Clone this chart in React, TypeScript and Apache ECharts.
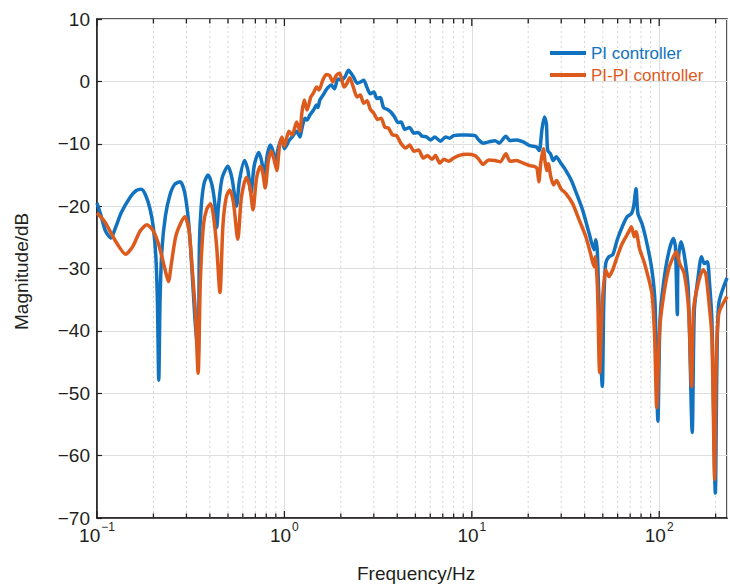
import React, { useEffect, useRef } from "react";
import * as echarts from "echarts";

// PI controller: frequency (Hz) and magnitude (dB)
const piFreq = [
  0.1, 0.105, 0.111, 0.1186, 0.125, 0.135, 0.15, 0.162, 0.1724, 0.182, 0.192, 0.2, 0.206, 0.21, 0.2136, 0.217, 0.222,
  0.232, 0.245, 0.26, 0.278, 0.292, 0.303, 0.312, 0.321, 0.333, 0.3465, 0.352, 0.36, 0.373, 0.3915, 0.41, 0.425,
  0.435, 0.445, 0.465, 0.4994, 0.525, 0.555, 0.575, 0.612, 0.638, 0.663, 0.69, 0.729, 0.755, 0.781, 0.81, 0.84,
  0.865, 0.893, 0.93, 0.968, 1.0, 1.03, 1.058, 1.1, 1.162, 1.21, 1.235, 1.287, 1.32, 1.368, 1.43, 1.485, 1.51, 1.545,
  1.608, 1.675, 1.72, 1.78, 1.85, 1.931, 2.02, 2.111, 2.197, 2.27, 2.346, 2.45, 2.545, 2.65, 2.76, 2.874, 3.0, 3.118,
  3.25, 3.382, 3.55, 3.698, 3.87, 4.044, 4.2, 4.385, 4.65, 4.913, 5.18, 5.438, 5.72, 6.02, 6.35, 6.8, 7.25, 7.6, 8.0,
  8.7, 9.41, 10.41, 10.9, 11.5, 12.3, 13.3, 14.0, 15.2, 16.0, 17.3, 18.8, 20.4, 22.1, 22.9, 23.7, 24.4, 25.0, 25.4,
  26.3, 27.2, 28.2, 30.0, 31.8, 34.0, 36.0, 39.0, 42.3, 44.9, 45.9, 46.8, 48.0, 49.7, 50.6, 51.8, 53.9, 56.5, 59.7,
  63.5, 67.4, 71.1, 73.0, 75.2, 77.0, 80.9, 86.0, 91.4, 95.0, 98.4, 101.0, 105.4, 112.0, 119.0, 122.0, 125.0, 126.0,
  130.7, 136.5, 142.9, 150.0, 154.0, 161.4, 168.1, 174.0, 180.8, 185.0, 191.0, 199.3, 203.0, 208.0, 230.0,
];
const piMag = [
  -19.5, -21.5, -24.0, -25.1, -23.6, -21.0, -18.6, -17.5, -17.3, -18.3, -20.5, -23.5, -28, -35, -47.9, -35, -27,
  -21.5, -18.2, -16.5, -16.1, -17.5, -20.5, -24.5, -30.1, -38, -44, -26, -20, -16.3, -15.0, -16.5, -19.5,
  -23.5, -20, -15.5, -13.6, -15.5, -20.0, -16, -12.7, -14.2, -17.9, -13.5, -11.4, -12.7, -15.2, -11.8, -10.2,
  -11, -12.8, -10.5, -9.1, -10.8, -10.2, -9.5, -8.9, -8.0, -8.9, -7.8, -5.9, -6.2, -5.4, -4.6, -3.8, -4.2, -3.0,
  -2.2, -1.3, -0.9, -0.6, -1.2, 0.4, 0.2, 0.8, 1.8, 1.3, 0.6, -0.3, -0.1, 0.2, -1.0, -2.0, -1.7, -2.75,
  -2.6, -4.2, -4.5, -4.9, -5.7, -6.6, -6.5, -7.7, -7.4, -8.3, -8.2, -8.8, -8.9, -9.4, -8.9, -9.6, -8.9, -9.1, -8.7,
  -8.6, -8.6, -8.7, -9.4, -9.9, -9.7, -9.5, -9.9, -8.8, -9.5, -9.4, -9.7, -10.3, -10.5, -11.1, -7.6, -5.7, -6.8, -11.1,
  -11.6, -12.7, -12.1, -13.2, -14.3, -15.9, -17.8, -20.6, -24.4, -27.0, -25.4, -27.6, -38.2, -48.9, -35.6, -29.2, -28.1, -27.8, -25.4,
  -23.3, -21.7, -21.2, -20.1, -17.2, -21.2, -22.8, -26.0, -30.2, -35.6, -54.5, -38.2, -32.4, -27.6, -25.2, -26.5, -37.4, -29.2,
  -25.7, -28.1, -33.4, -56.3, -36.6, -31.3, -28.1, -29.2, -28.9, -31.8, -38.2, -66.0, -46.2, -35.6, -31.5,
];

// PI-PI controller: frequency (Hz) and magnitude (dB)
const pipiFreq = [
  0.1, 0.11, 0.125, 0.1423, 0.155, 0.17, 0.1845, 0.2, 0.215, 0.23, 0.2404, 0.25, 0.265, 0.2946, 0.31, 0.322, 0.335,
  0.3465, 0.356, 0.37, 0.385, 0.4044, 0.42, 0.435, 0.4531, 0.47, 0.49, 0.5117, 0.535, 0.564, 0.59, 0.627, 0.655, 0.68,
  0.71, 0.744, 0.765, 0.79, 0.82, 0.85, 0.875, 0.911, 0.94, 0.97, 1.0, 1.03, 1.058, 1.1, 1.162, 1.21, 1.24, 1.276,
  1.32, 1.384, 1.43, 1.485, 1.53, 1.6, 1.675, 1.74, 1.816, 1.89, 1.97, 2.02, 2.08, 2.15, 2.23, 2.33, 2.443, 2.54,
  2.65, 2.76, 2.874, 3.0, 3.144, 3.28, 3.436, 3.6, 3.774, 3.97, 4.177, 4.44, 4.66, 4.913, 5.2, 5.505, 5.8, 6.14, 6.4,
  6.75, 7.1, 7.52, 8.0, 8.5, 9.41, 10.4, 10.9, 11.5, 12.3, 13.3, 14.2, 15.2, 16.0, 17.3, 18.8, 20.4, 21.8, 22.3, 22.8,
  23.3, 24.1, 24.6, 25.1, 25.6, 26.4, 27.3, 28.3, 29.9, 31.8, 34.5, 37.4, 40.6, 43.0, 44.9, 45.6, 46.8, 48.1, 49.7,
  51.8, 53.9, 56.5, 59.7, 63.5, 68.8, 71.1, 73.5, 75.2, 78.5, 83.5, 91.4, 94.5, 97.0, 100.5, 105.4, 112.0, 119.0,
  123.5, 128.5, 136.0, 143.5, 148.8, 152.5, 161.4, 171.5, 177.0, 183.0, 191.0, 197.6, 201.0, 208.0, 230.0,
];
const pipiMag = [
  -21.1, -22.5, -25.5, -27.7, -26.5, -24.0, -23.0, -24.0, -26.5, -30.0, -32.1, -29.0, -24.5, -21.7, -24, -30, -37,
  -46.8, -32, -23, -20.5, -19.6, -22, -26.5, -33.85, -23, -18.5, -17.4, -19.5, -25.3, -18.5, -15.4, -17, -20.6,
  -15.5, -13.6, -14.5, -17.1, -12.8, -11.2, -12.2, -14.3, -10.5, -8.9, -10.4, -9.0, -8.0, -8.6, -6.5, -8.0, -5.0, -3.0,
  -4.6, -2.5, -1.85, -0.9, -1.4, 0.15, 1.1, 0.95, -0.1, 0.95, 1.3, 0.4, -0.9, -0.4, 0.6, -0.9, -2.5, -2.2,
  -3.5, -3.1, -4.5, -5.1, -6.1, -5.9, -7.35, -7.5, -8.6, -8.7, -9.9, -10.7, -10.2, -11.2, -11.0, -12.3, -11.9, -12.5, -11.9,
  -13.1, -12.5, -12.8, -12.3, -11.9, -11.7, -11.9, -12.5, -13.3, -12.6, -12.7, -12.9, -11.6, -12.8, -12.7, -13.1, -13.5, -13.7, -14.0, -16.1,
  -13.2, -10.8, -12.9, -14.3, -13.2, -15.3, -16.6, -15.9, -17.2, -18.0, -19.6, -22.2, -24.9, -27.6, -29.7, -28.1, -32.9, -46.7, -35.6,
  -30.2, -31.3, -30.2, -28.1, -26.0, -24.1, -23.3, -24.9, -24.1, -26.8, -29.2, -34.0, -40.9, -52.3, -39.8, -34.5, -30.2, -28.1,
  -27.3, -29.2, -30.8, -36.6, -48.9, -36.6, -32.4, -30.2, -30.8, -34.5, -40.9, -63.8, -46.2, -37.2, -34.5,
];

const seriesNames = ["PI controller", "PI-PI controller"];
const seriesColors = ["#1173bf", "#dd5a1d"];
const majorTicks = [0.1, 1, 10, 100];
const minorTicks = [
  0.2, 0.3, 0.4, 0.5, 0.6, 0.7, 0.8, 0.9, 2, 3, 4, 5, 6, 7, 8, 9, 20, 30, 40, 50, 60, 70, 80, 90, 200,
];
const yMin = -70;
const yMax = 10;

const FONT = "'Liberation Sans', Arial, Helvetica, sans-serif";
const INK = "#231f20";

export default function App() {
  const ref = useRef<HTMLDivElement>(null);

  useEffect(() => {
    document.body.style.margin = "0";
    if (!ref.current) return;
    const chart = echarts.init(ref.current, undefined, { renderer: "svg" });

    const zip = (fx: number[], my: number[]) => fx.map((f, i) => [f, my[i]]);
    const tickData = [
      ...majorTicks.map((v) => [v, yMin, 1]),
      ...minorTicks.map((v) => [v, yMin, 0]),
    ];

    chart.setOption({
      animation: false,
      backgroundColor: "#ffffff",
      textStyle: { fontFamily: FONT },
      grid: {
        left: 97,
        top: 19,
        right: -2,
        bottom: 69,
        show: true,
        borderColor: INK,
        borderWidth: 1.5,
        backgroundColor: "transparent",
      },
      legend: {
        orient: "vertical",
        left: 545,
        top: 38,
        itemWidth: 36,
        itemHeight: 4,
        itemGap: 2,
        icon: "rect",
        textStyle: { fontSize: 17, lineHeight: 20, fontFamily: FONT },
        data: seriesNames.map((n, i) => ({ name: n, textStyle: { color: seriesColors[i] } })),
      },
      xAxis: {
        type: "log",
        logBase: 10,
        min: 0.1,
        max: 230,
        axisLine: { show: true, onZero: false, lineStyle: { color: INK, width: 1.5 } },
        axisTick: { show: false },
        splitLine: { show: true, lineStyle: { color: "#dedede", width: 1 } },
        axisLabel: {
          margin: 3,
          color: INK,
          fontFamily: FONT,
          formatter: (v: number) => {
            const e = Math.round(Math.log10(v));
            if (Math.abs(Math.log10(v) - e) > 1e-6) return "";
            return "{b|10}{s|" + (e < 0 ? "−" + Math.abs(e) : String(e)) + "}";
          },
          rich: {
            b: { fontSize: 19, color: INK, fontFamily: FONT, verticalAlign: "bottom", lineHeight: 24 },
            s: { fontSize: 12, color: INK, fontFamily: FONT, verticalAlign: "top", lineHeight: 24, padding: [0, 0, 0, 1] },
          },
        },
      },
      yAxis: {
        type: "value",
        min: yMin,
        max: yMax,
        interval: 10,
        axisLine: { show: true, onZero: false, lineStyle: { color: INK, width: 1.5 } },
        axisTick: { show: true, inside: true, length: 5, lineStyle: { color: INK, width: 1.2 } },
        splitLine: { show: true, lineStyle: { color: "#dedede", width: 1 } },
        axisLabel: {
          margin: 7,
          color: INK,
          fontSize: 19,
          fontFamily: FONT,
          formatter: (v: number) => (v < 0 ? "−" + Math.abs(v) : String(v)),
        },
      },
      graphic: [
        {
          type: "text",
          left: 357,
          top: 564,
          style: { text: "Frequency/Hz", fontSize: 19, fill: INK, fontFamily: FONT },
        },
        {
          type: "text",
          x: 12,
          y: 330,
          rotation: Math.PI / 2,
          style: { text: "Magnitude/dB", fontSize: 19, fill: INK, fontFamily: FONT, textAlign: "left", textVerticalAlign: "top" },
        },
      ],
      series: [
        {
          type: "custom",
          name: "ticks",
          silent: true,
          z: 1,
          clip: false,
          data: tickData,
          encode: { x: 0, y: 1 },
          renderItem: (_params: any, api: any) => {
            const v = api.value(0);
            const major = api.value(2) === 1;
            const pb = api.coord([v, yMin]);
            const pt = api.coord([v, yMax]);
            const len = major ? 7 : 4.5;
            const children: any[] = [];
            if (!major) {
              children.push({
                type: "line",
                shape: { x1: pb[0], y1: pb[1], x2: pt[0], y2: pt[1] },
                style: { stroke: "#d4d4d4", lineWidth: 1, lineDash: [2, 3] },
              });
            }
            children.push({
              type: "line",
              shape: { x1: pb[0], y1: pb[1], x2: pb[0], y2: pb[1] - len },
              style: { stroke: INK, lineWidth: 1.3 },
            });
            children.push({
              type: "line",
              shape: { x1: pt[0], y1: pt[1], x2: pt[0], y2: pt[1] + len },
              style: { stroke: INK, lineWidth: 1.3 },
            });
            return { type: "group", children };
          },
        },
        {
          type: "line",
          name: seriesNames[0],
          data: zip(piFreq, piMag),
          showSymbol: false,
          symbol: "none",
          smooth: 0.25,
          z: 3,
          color: seriesColors[0],
          lineStyle: { width: 3.5, color: seriesColors[0], join: "round" },
        },
        {
          type: "line",
          name: seriesNames[1],
          data: zip(pipiFreq, pipiMag),
          showSymbol: false,
          symbol: "none",
          smooth: 0.25,
          z: 4,
          color: seriesColors[1],
          lineStyle: { width: 3.5, color: seriesColors[1], join: "round" },
        },
      ],
    });

    return () => chart.dispose();
  }, []);

  return <div ref={ref} style={{ width: 730, height: 587 }} />;
}
